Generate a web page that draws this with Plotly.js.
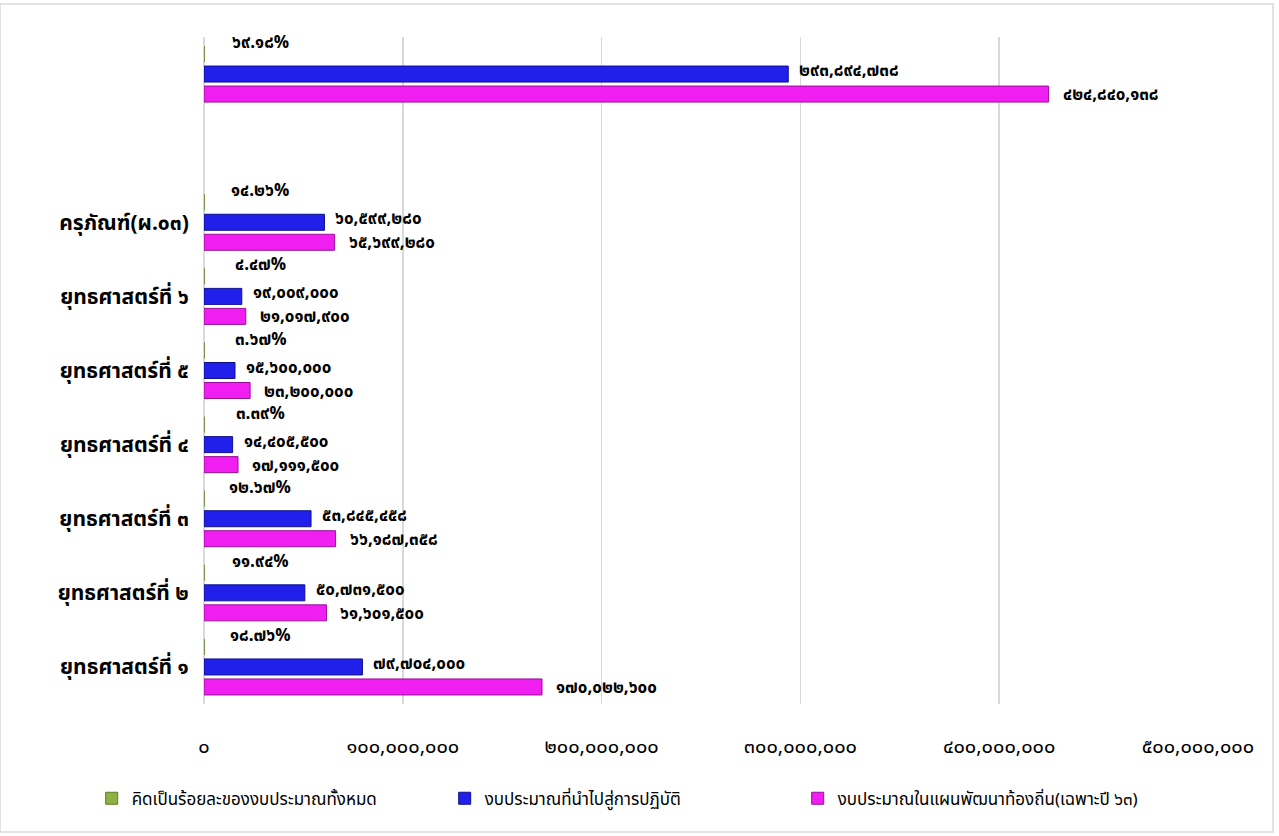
<!DOCTYPE html>
<html>
<head>
<meta charset="utf-8">
<script src="https://cdn.plot.ly/plotly-3.0.1.min.js"></script>
<style>
html,body{margin:0;padding:0;background:#fff;}
#chart{width:1279px;height:836px;}
</style>
</head>
<body>
<div id="chart"></div>
<script>
// Categories (bottom to top); the two top ones carry blank tick labels
const categories = ['ยุทธศาสตร์ที่ ๑','ยุทธศาสตร์ที่ ๒','ยุทธศาสตร์ที่ ๓','ยุทธศาสตร์ที่ ๔','ยุทธศาสตร์ที่ ๕','ยุทธศาสตร์ที่ ๖','ครุภัณฑ์(ผ.๐๓)','ว่าง','รวม'];
const categoryLabels = ['ยุทธศาสตร์ที่ ๑','ยุทธศาสตร์ที่ ๒','ยุทธศาสตร์ที่ ๓','ยุทธศาสตร์ที่ ๔','ยุทธศาสตร์ที่ ๕','ยุทธศาสตร์ที่ ๖','ครุภัณฑ์(ผ.๐๓)','',''];

const percentName = 'คิดเป็นร้อยละของงบประมาณทั้งหมด';
const actualName = 'งบประมาณที่นำไปสู่การปฏิบัติ';
const planName = 'งบประมาณในแผนพัฒนาท้องถิ่น(เฉพาะปี ๖๓)';

const percentValues = [18.76, 11.94, 12.67, 3.39, 3.67, 4.47, 14.26, null, 69.18];
const actualValues = [79704000, 50731500, 53845458, 14405500, 15600000, 19009000, 60599280, null, 293894738];
const planValues = [170022600, 61601500, 66187358, 17111500, 23200000, 21017900, 65699280, null, 424840138];

const xTickVals = [0, 100000000, 200000000, 300000000, 400000000, 500000000];

const thaiDigits = ['๐','๑','๒','๓','๔','๕','๖','๗','๘','๙'];
function toThai(s){ return String(s).replace(/[0-9]/g, d => thaiDigits[+d]); }
function fmtNum(v){ return v == null ? '' : toThai(v.toLocaleString('en-US')); }
function fmtPct(v){ return v == null ? '' : toThai(v.toFixed(2)) + '%'; }

const xTickText = xTickVals.map(fmtNum);

const FONT = 'Tahoma, "Noto Sans Thai", "Noto Sans", sans-serif';
const labelFont = {family: FONT, size: 17, color: '#000', weight: 'bold'};

const traces = [
  {
    type: 'bar', orientation: 'h', name: planName,
    y: categories, x: planValues,
    marker: {color: '#f01ef0', line: {color: '#9a109a', width: 1}},
    hoverinfo: 'x+y'
  },
  {
    type: 'bar', orientation: 'h', name: actualName,
    y: categories, x: actualValues,
    marker: {color: '#2020ea', line: {color: '#10108a', width: 1}},
    hoverinfo: 'x+y'
  },
  {
    type: 'bar', orientation: 'h', name: percentName,
    y: categories, x: percentValues,
    marker: {color: '#8fb043', line: {color: '#5d7a22', width: 1}},
    hoverinfo: 'x+y'
  }
];

// data labels as annotations tied to the data values
const annotations = [];
categories.forEach((c, i) => {
  if (percentValues[i] != null) {
    annotations.push({x: percentValues[i], y: c, xref: 'x', yref: 'y', text: fmtPct(percentValues[i]),
      showarrow: false, xanchor: 'center', yanchor: 'middle', xshift: 56, yshift: 31, borderpad: 0, font: labelFont});
  }
  if (actualValues[i] != null) {
    annotations.push({x: actualValues[i], y: c, xref: 'x', yref: 'y', text: fmtNum(actualValues[i]),
      showarrow: false, xanchor: 'left', yanchor: 'middle', xshift: 10, yshift: 3, borderpad: 0, font: labelFont});
  }
  if (planValues[i] != null) {
    annotations.push({x: planValues[i], y: c, xref: 'x', yref: 'y', text: fmtNum(planValues[i]),
      showarrow: false, xanchor: 'left', yanchor: 'middle', xshift: 13, yshift: -21, borderpad: 0, font: labelFont});
  }
});

const layout = {
  width: 1279, height: 836,
  paper_bgcolor: '#fff', plot_bgcolor: '#fff',
  margin: {l: 204, r: 81, t: 37, b: 132},
  barmode: 'group', bargap: 0.19, bargroupgap: 0.2,
  font: {family: FONT, size: 17, color: '#000'},
  showlegend: true,
  legend: {
    orientation: 'h', traceorder: 'reversed',
    x: -0.113, xanchor: 'left', y: -0.142, yanchor: 'middle',
    entrywidth: 308, font: {family: FONT, size: 17, color: '#000'},
    itemwidth: 30
  },
  xaxis: {
    range: [0, 500000000], tickmode: 'array', tickvals: xTickVals, ticktext: xTickText,
    showgrid: true, gridcolor: '#d9d9d9', gridwidth: 1.5,
    zeroline: true, zerolinecolor: '#d9d9d9', zerolinewidth: 1.5,
    showline: false, ticks: 'outside', ticklen: 24, tickcolor: 'rgba(0,0,0,0)',
    tickfont: {family: FONT, size: 20, color: '#000'}, fixedrange: true
  },
  yaxis: {
    type: 'category', categoryorder: 'array', categoryarray: categories,
    range: [-0.5, categories.length - 0.5], autorange: false,
    tickmode: 'array', tickvals: categories, ticktext: categoryLabels,
    showgrid: false, zeroline: false, showline: false,
    ticks: 'outside', ticklen: 10, tickcolor: 'rgba(0,0,0,0)',
    tickfont: {family: FONT, size: 21, color: '#000', weight: 'bold'}, fixedrange: true
  },
  annotations: annotations,
  shapes: [{
    type: 'rect', xref: 'paper', yref: 'paper',
    x0: -204/994, x1: (1279-6-204)/994, y0: -(836-4-704)/667, y1: (704-4)/667,
    line: {color: '#d9d9d9', width: 1.5}, fillcolor: 'rgba(0,0,0,0)', layer: 'below'
  }]
};

Plotly.newPlot('chart', traces, layout, {displayModeBar: false, staticPlot: true});
</script>
</body>
</html>
